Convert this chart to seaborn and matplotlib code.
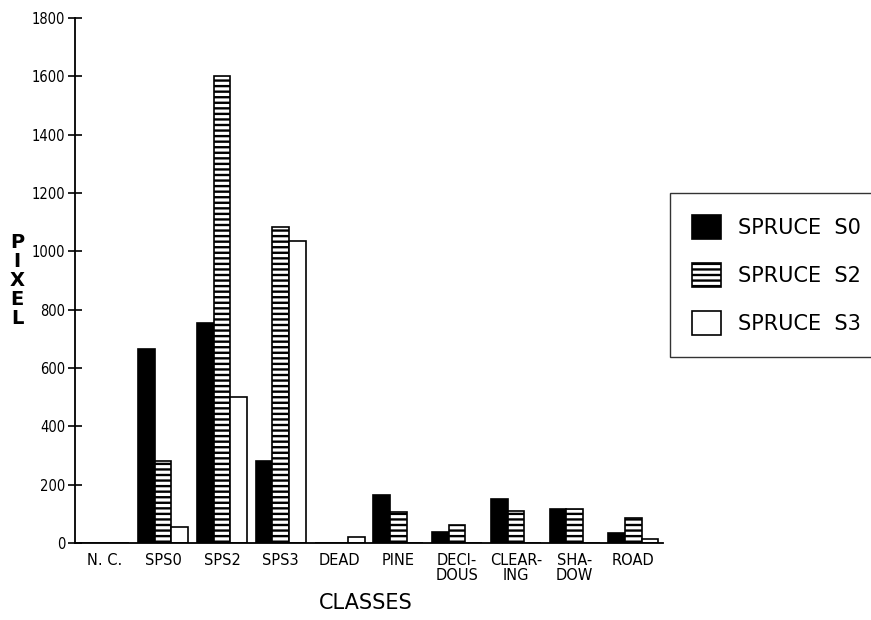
import numpy as np
import pandas as pd
import matplotlib
matplotlib.use('Agg')
import matplotlib.pyplot as plt
import seaborn as sns

# --- Data ---
classes = ['N. C.', 'SPS0', 'SPS2', 'SPS3', 'DEAD', 'PINE',
           'DECI-\nDOUS', 'CLEAR-\nING', 'SHA-\nDOW', 'ROAD']
spruce_s0 = [0, 665, 755, 280, 0, 165, 38, 150, 115, 35]
spruce_s2 = [0, 280, 1600, 1085, 0, 105, 62, 108, 118, 85]
spruce_s3 = [0, 55, 500, 1035, 20, 0, 0, 0, 0, 12]
series = ['SPRUCE  S0', 'SPRUCE  S2', 'SPRUCE  S3']
y_ticks = list(range(0, 1801, 200))

df = pd.DataFrame({
    'class': classes * 3,
    'series': [series[0]] * 10 + [series[1]] * 10 + [series[2]] * 10,
    'pixel': spruce_s0 + spruce_s2 + spruce_s3,
})

sns.set_style('white')
plt.rcParams['font.family'] = ['DejaVu Sans']
plt.rcParams['hatch.linewidth'] = 1.7
plt.rcParams['text.color'] = 'black'
plt.rcParams['xtick.color'] = 'black'
plt.rcParams['ytick.color'] = 'black'
plt.rcParams['axes.labelcolor'] = 'black'

fig = plt.figure(figsize=(8.71, 6.2), dpi=100)
ax = fig.add_axes([0.0861, 0.1242, 0.6749, 0.8468])

sns.barplot(data=df, x='class', y='pixel', hue='series', order=classes,
            hue_order=series, palette=['black', 'white', 'white'],
            edgecolor='black', linewidth=1.2, width=0.85, ax=ax,
            saturation=1, legend=False)

hatches = ['', '---', '']
for cont, h in zip(ax.containers, hatches):
    for bar in cont:
        bar.set_hatch(h)
        bar.set_edgecolor('black')

# --- Axes styling ---
ax.set_xlim(-0.5, 9.5)
ax.set_ylim(0, 1800)
ax.set_yticks(y_ticks)
ax.set_yticklabels([str(v) for v in y_ticks], fontsize=10.5, stretch='condensed')
ax.set_xticks(range(len(classes)))
ax.set_xticklabels(classes, fontsize=10.5, linespacing=1.0)
ax.set_xticks(np.arange(0.5, 10, 1.0), minor=True)
ax.tick_params(axis='x', which='major', length=0, pad=7, labelcolor='black')
ax.tick_params(axis='x', which='minor', direction='inout', length=10, width=1.2)
ax.tick_params(axis='y', direction='inout', length=10, width=1.2, pad=2,
               left=True, labelcolor='black')
for side in ['top', 'right']:
    ax.spines[side].set_visible(False)
for side in ['left', 'bottom']:
    ax.spines[side].set_linewidth(1.3)
    ax.spines[side].set_color('black')
ax.set_xlabel('')
ax.set_ylabel('')

fig.text(0.0195, 0.548, 'P\nI\nX\nE\nL', fontsize=14, fontweight='bold',
         ha='center', va='center', linespacing=1.0, color='black')
fig.text(0.42, 0.027, 'CLASSES', fontsize=15, ha='center', va='center',
         color='black')

# --- Legend ---
handles = [ax.containers[i][0] for i in range(3)]
leg = fig.legend(handles, series, loc='upper left',
                 bbox_to_anchor=(0.769, 0.689), fontsize=15,
                 frameon=True, fancybox=False, edgecolor='black',
                 handlelength=1.4, handleheight=1.4, handletextpad=0.8,
                 labelspacing=1.15, borderpad=1.05, borderaxespad=0)
leg.get_frame().set_linewidth(1.0)
for t in leg.get_texts():
    t.set_color('black')

plt.savefig('out.png', dpi=100)
plt.close(fig)
